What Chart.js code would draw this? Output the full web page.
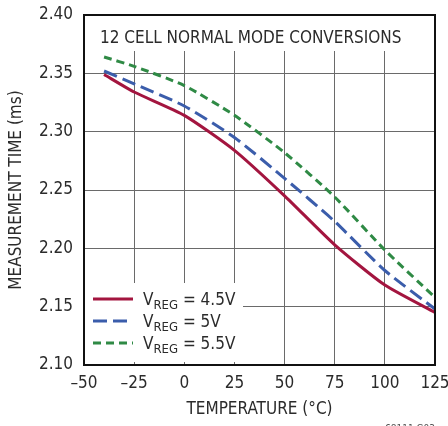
<!DOCTYPE html>
<html>
<head>
<meta charset="utf-8">
<script src="https://cdn.jsdelivr.net/npm/chart.js@4"></script>
<style>
html,body{margin:0;padding:0;background:#fff;}
#wrap{width:448px;height:426px;position:relative;}
</style>
</head>
<body>
<div id="wrap"><canvas id="grafico" width="448" height="426"></canvas></div>
<script>
const temperaturas=[-40,-25,0,25,50,75,100,125];
const tempo45=[2.349,2.334,2.314,2.284,2.245,2.203,2.1685,2.145];
const tempo50=[2.352,2.341,2.322,2.295,2.260,2.223,2.181,2.148];
const tempo55=[2.364,2.356,2.3395,2.314,2.282,2.244,2.1985,2.158];
const ticksX=[-50,-25,0,25,50,75,100,125];
const ticksY=[2.10,2.15,2.20,2.25,2.30,2.35,2.40];
const rotulosLegenda=['4.5V','5V','5.5V'];
const tituloGrafico='12 CELL NORMAL MODE CONVERSIONS';

const FONTE='"Liberation Sans Narrow","DejaVu Sans Condensed","Liberation Sans",sans-serif';
const COR_TEXTO='#2b2b2b';
const cores=['#a3153f','#3b5dab','#2f8a45'];
const tracos=[[],[14,6],[8,5]];

const pontos=(ys)=>temperaturas.map((t,i)=>({x:t,y:ys[i]}));

// caixas brancas (titulo e legenda) por cima da grade, antes das curvas
const caixasPlugin={
  id:'caixas',
  beforeDatasetsDraw(chart){
    const {ctx,chartArea:a}=chart;
    ctx.save();
    ctx.fillStyle='#fff';
    ctx.fillRect(a.left+1,a.top+1,a.right-a.left-2,35);
    ctx.fillRect(a.left+1,283,158,79);
    ctx.fillStyle=COR_TEXTO;
    ctx.font='17px '+FONTE;
    ctx.textBaseline='alphabetic';
    ctx.fillText(tituloGrafico,100,43);
    ctx.restore();
  },
  afterDatasetsDraw(chart){
    const {ctx,chartArea:a}=chart;
    ctx.save();
    rotulosLegenda.forEach(function(r,i){
      const y=299+i*22;
      ctx.strokeStyle=cores[i];
      ctx.lineWidth=3;
      ctx.setLineDash(tracos[i]);
      ctx.beginPath();ctx.moveTo(93,y);ctx.lineTo(133,y);ctx.stroke();
      ctx.setLineDash([]);
      ctx.fillStyle=COR_TEXTO;
      ctx.font='17px '+FONTE;
      ctx.fillText('V',143,y+6);
      let w=ctx.measureText('V').width;
      ctx.font='13px '+FONTE;
      ctx.fillText('REG',143+w,y+10);
      w+=ctx.measureText('REG').width;
      ctx.font='17px '+FONTE;
      ctx.fillText(' = '+r,143+w,y+6);
    });
    // moldura
    ctx.strokeStyle='#111';
    ctx.lineWidth=2;
    ctx.strokeRect(a.left,a.top,a.right-a.left,a.bottom-a.top);
    // codigo da figura, cortado na borda
    ctx.fillStyle='#555';
    ctx.font='10px '+FONTE;
    ctx.textAlign='right';
    ctx.fillText('68111 G03',435,432);
    ctx.restore();
  }
};

function serie(label,ys,i){
  return {label:label,data:pontos(ys),borderColor:cores[i],borderWidth:3,borderDash:tracos[i],pointRadius:0,tension:0.2,fill:false};
}

const ctx=document.getElementById('grafico').getContext('2d');
const grafico=new Chart(ctx,{
  type:'line',
  data:{datasets:[serie('VREG = 4.5V',tempo45,0),serie('VREG = 5V',tempo50,1),serie('VREG = 5.5V',tempo55,2)]},
  options:{
    responsive:false,animation:false,
    layout:{padding:{left:0,right:13,top:15,bottom:0}},
    plugins:{legend:{display:false},tooltip:{enabled:false}},
    scales:{
      x:{type:'linear',min:-50,max:125,
        afterBuildTicks:(s)=>{s.ticks=ticksX.map(v=>({value:v}));},
        afterFit:(s)=>{s.height=61;s.paddingLeft=0;s.paddingRight=0;},
        grid:{color:'#6a6a6a',lineWidth:1,drawTicks:false},
        border:{display:false},
        ticks:{color:COR_TEXTO,font:{family:FONTE,size:17},padding:8,maxRotation:0,callback:(v)=>v<0?'\u2013'+Math.abs(v):''+v},
        title:{display:true,text:'TEMPERATURE (\u00b0C)',color:COR_TEXTO,font:{family:FONTE,size:17},padding:{top:0,bottom:6}}
      },
      y:{type:'linear',min:2.10,max:2.40,
        afterBuildTicks:(s)=>{s.ticks=ticksY.map(v=>({value:v}));},
        afterFit:(s)=>{s.width=84;s.paddingTop=0;s.paddingBottom=0;},
        grid:{color:'#6a6a6a',lineWidth:1,drawTicks:false},
        border:{display:false},
        ticks:{color:COR_TEXTO,font:{family:FONTE,size:17},padding:11,callback:(v)=>v.toFixed(2)},
        title:{display:true,text:'MEASUREMENT TIME (ms)',color:COR_TEXTO,font:{family:FONTE,size:17},padding:{top:6,bottom:4}}
      }
    }
  },
  plugins:[caixasPlugin]
});
</script>
</body>
</html>
